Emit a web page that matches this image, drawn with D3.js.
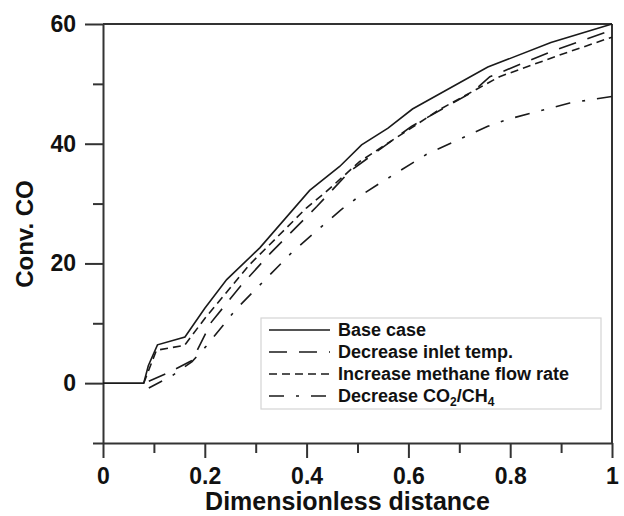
<!DOCTYPE html>
<html>
<head>
<meta charset="utf-8">
<script src="https://cdn.jsdelivr.net/npm/d3@7"></script>
<style>
  body { margin: 0; background: #fff; }
  text { font-family: "Liberation Sans", Arial, sans-serif; font-weight: bold; fill: #111; }
</style>
</head>
<body>
<div id="chart"></div>
<script>
// data: [dimensionless distance, conv. CO]
const baseCase = [[0,0],[0.08,0],[0.089,2.9],[0.107,6.4],[0.161,7.7],[0.2,12.5],[0.243,17.3],[0.308,22.6],[0.406,32.2],[0.465,36.2],[0.508,39.8],[0.56,42.6],[0.608,45.8],[0.756,52.8],[0.88,56.9],[1,60]];
const inletTemp = [[0.09,0.3],[0.13,1.8],[0.175,3.8],[0.213,10.2],[0.27,16.2],[0.33,21.8],[0.42,29.5],[0.485,35.4],[0.606,42.9],[0.727,48.7],[0.76,51.2],[0.89,55.7],[1,59]];
const methaneFlow = [[0.08,0],[0.105,5.5],[0.16,6.3],[0.2,10.8],[0.288,19.8],[0.4,29.3],[0.436,31.8],[0.504,37],[0.661,45.7],[0.779,51.2],[0.9,54.9],[1,57.8]];
const co2Ch4 = [[0.09,-0.8],[0.135,1.2],[0.175,3.6],[0.203,6.2],[0.262,12.4],[0.373,22],[0.468,29],[0.5,31],[0.544,33.4],[0.635,38.2],[0.756,42.9],[0.792,44],[0.917,46.8],[1,47.9]];

const seriesNames = ["Base case", "Decrease inlet temp.", "Increase methane flow rate", "Decrease CO2/CH4"];
const seriesData = [baseCase, inletTemp, methaneFlow, co2Ch4];
const dashes = [null, "18,12", "8,5", "15,12,3,12"];

const xMajor = [0, 0.2, 0.4, 0.6, 0.8, 1];
const xMinor = [0.1, 0.3, 0.5, 0.7, 0.9];
const yMajor = [0, 20, 40, 60];
const yMinor = [-10, 10, 30, 50];

const width = 624, height = 516;
const margin = {top: 24, right: 12, bottom: 73, left: 103};

const svg = d3.select("#chart").append("svg")
    .attr("width", width)
    .attr("height", height);

const x = d3.scaleLinear().domain([0, 1]).range([margin.left, width - margin.right]);
const y = d3.scaleLinear().domain([-10, 60]).range([height - margin.bottom, margin.top]);

// frame on top and right
svg.append("line")
    .attr("x1", x(0)).attr("x2", x(1))
    .attr("y1", y(60)).attr("y2", y(60))
    .attr("stroke", "#333").attr("stroke-width", 2);
svg.append("line")
    .attr("x1", x(1)).attr("x2", x(1))
    .attr("y1", y(60)).attr("y2", y(-10))
    .attr("stroke", "#333").attr("stroke-width", 2);

// x axis, major ticks with labels then minor ones
let xAxis = svg.append("g")
    .attr("transform", "translate(0," + y(-10) + ")")
    .call(d3.axisBottom(x).tickValues(xMajor).tickSize(15).tickSizeOuter(0).tickPadding(10)
        .tickFormat(d => d3.format("")(d)));
svg.append("g")
    .attr("transform", "translate(0," + y(-10) + ")")
    .call(d3.axisBottom(x).tickValues(xMinor).tickSize(10).tickFormat(""))
    .select(".domain").remove();

let yAxis = svg.append("g")
    .attr("transform", "translate(" + x(0) + ",0)")
    .call(d3.axisLeft(y).tickValues(yMajor).tickSize(18).tickSizeOuter(0).tickPadding(9));
svg.append("g")
    .attr("transform", "translate(" + x(0) + ",0)")
    .call(d3.axisLeft(y).tickValues(yMinor).tickSize(10).tickFormat(""))
    .select(".domain").remove();

svg.selectAll(".domain, .tick line")
    .attr("stroke", "#333")
    .attr("stroke-width", 2);
svg.selectAll(".tick text")
    .attr("font-size", 23)
    .attr("font-family", "Liberation Sans, Arial, sans-serif")
    .attr("font-weight", "bold")
    .attr("fill", "#111");

// axis titles
svg.append("text")
    .attr("x", (x(0) + x(1)) / 2 - 10)
    .attr("y", 510)
    .attr("text-anchor", "middle")
    .attr("font-size", 25)
    .text("Dimensionless distance");

svg.append("text")
    .attr("transform", "translate(33," + 234 + ") rotate(-90)")
    .attr("text-anchor", "middle")
    .attr("font-size", 24)
    .text("Conv. CO");

// curves
const line = d3.line().x(d => x(d[0])).y(d => y(d[1]));

svg.selectAll(".curve")
    .data(seriesData)
    .enter().append("path")
    .attr("class", "curve")
    .attr("d", line)
    .attr("fill", "none")
    .attr("stroke", "#1a1a1a")
    .attr("stroke-width", 1.6)
    .attr("stroke-dasharray", (d, i) => dashes[i]);

// legend
const legend = svg.append("g").attr("transform", "translate(261,318)");
legend.append("rect")
    .attr("width", 340).attr("height", 91)
    .attr("fill", "#fff")
    .attr("stroke", "#d4d4d4")
    .attr("stroke-width", 1.2);

const rows = legend.selectAll(".row")
    .data(seriesNames)
    .enter().append("g")
    .attr("class", "row")
    .attr("transform", (d, i) => "translate(0," + (12 + i * 22) + ")");

rows.append("line")
    .attr("x1", 8).attr("x2", 69)
    .attr("stroke", "#1a1a1a")
    .attr("stroke-width", 1.6)
    .attr("stroke-dasharray", (d, i) => dashes[i]);

rows.append("text")
    .attr("x", 77)
    .attr("dy", "0.35em")
    .attr("font-size", 18)
    .each(function(d) {
        let t = d3.select(this);
        if (d === "Decrease CO2/CH4") {
            t.append("tspan").text("Decrease CO");
            t.append("tspan").attr("font-size", 12).attr("dy", 4).text("2");
            t.append("tspan").attr("dy", -4).text("/CH");
            t.append("tspan").attr("font-size", 12).attr("dy", 4).text("4");
        } else {
            t.text(d);
        }
    });
</script>
</body>
</html>
